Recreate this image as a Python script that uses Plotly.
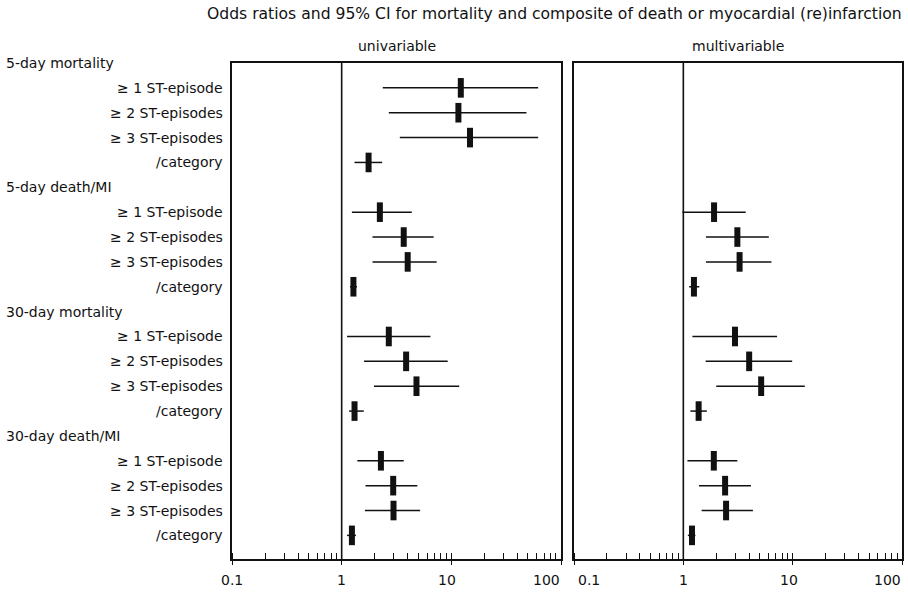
import math
import plotly.graph_objects as go

# ---------------- data ----------------
title_text = "Odds ratios and 95% CI for mortality and composite of death or myocardial (re)infarction"
panel_titles = ["univariable", "multivariable"]

row_labels = [
    "5-day mortality", "≥ 1 ST-episode", "≥ 2 ST-episodes", "≥ 3 ST-episodes", "/category",
    "5-day death/MI", "≥ 1 ST-episode", "≥ 2 ST-episodes", "≥ 3 ST-episodes", "/category",
    "30-day mortality", "≥ 1 ST-episode", "≥ 2 ST-episodes", "≥ 3 ST-episodes", "/category",
    "30-day death/MI", "≥ 1 ST-episode", "≥ 2 ST-episodes", "≥ 3 ST-episodes", "/category",
]
is_header = [True, False, False, False, False] * 4

uni_or = [None, 12.2, 11.6, 14.8, 1.76,
          None, 2.23, 3.68, 4.0, 1.28,
          None, 2.69, 3.87, 4.81, 1.31,
          None, 2.28, 2.95, 2.97, 1.24]
uni_lo = [None, 2.37, 2.69, 3.39, 1.31,
          None, 1.24, 1.91, 1.91, 1.19,
          None, 1.12, 1.60, 1.97, 1.17,
          None, 1.39, 1.65, 1.63, 1.12]
uni_hi = [None, 61.9, 48.4, 61.9, 2.34,
          None, 4.36, 6.9, 7.35, 1.38,
          None, 6.44, 9.26, 11.8, 1.59,
          None, 3.68, 4.9, 5.19, 1.35]

multi_or = [None, None, None, None, None,
            None, 1.91, 3.12, 3.27, 1.25,
            None, 2.97, 4.0, 5.15, 1.38,
            None, 1.9, 2.41, 2.46, 1.2]
multi_lo = [None, None, None, None, None,
            None, 0.98, 1.61, 1.61, 1.13,
            None, 1.21, 1.6, 2.0, 1.16,
            None, 1.09, 1.39, 1.47, 1.1]
multi_hi = [None, None, None, None, None,
            None, 3.72, 6.05, 6.4, 1.4,
            None, 7.2, 9.9, 12.9, 1.64,
            None, 3.12, 4.15, 4.33, 1.29]

tick_vals = [0.1, 1, 10, 100]
tick_text = ["0.1", "1", "10", "100"]
reference_value = 1

# ---------------- layout geometry ----------------
W, H = 908, 594
FONT = "DejaVu Sans"
INK = "#111111"
n_rows = len(row_labels)
y_bottom = 19.95

def px_x(p):
    return p / W

def px_y(p):
    return 1 - p / H

panels = [
    dict(xa="x", ya="y", dom=[px_x(232), px_x(561)], orv=uni_or, lo=uni_lo, hi=uni_hi),
    dict(xa="x2", ya="y2", dom=[px_x(574), px_x(902)], orv=multi_or, lo=multi_lo, hi=multi_hi),
]
ydom = [px_y(559), px_y(63)]

fig = go.Figure()

for p in panels:
    # reference line at OR = 1
    fig.add_trace(go.Scatter(
        x=[reference_value, reference_value], y=[0, y_bottom], mode="lines",
        line=dict(color=INK, width=1.6), xaxis=p["xa"], yaxis=p["ya"],
        hoverinfo="skip", showlegend=False))
    # CI lines
    xs, ys = [], []
    for i in range(n_rows):
        if p["orv"][i] is None:
            continue
        xs += [p["lo"][i], p["hi"][i], None]
        ys += [i, i, None]
    fig.add_trace(go.Scatter(
        x=xs, y=ys, mode="lines", line=dict(color=INK, width=1.5),
        xaxis=p["xa"], yaxis=p["ya"], hoverinfo="skip", showlegend=False))
    # point estimates
    px_, py_ = [], []
    for i in range(n_rows):
        if p["orv"][i] is None:
            continue
        px_.append(p["orv"][i])
        py_.append(i)
    fig.add_trace(go.Scatter(
        x=px_, y=py_, mode="markers",
        marker=dict(symbol="line-ns-open", size=14, color=INK,
                    line=dict(color=INK, width=6)),
        xaxis=p["xa"], yaxis=p["ya"], showlegend=False))

axis_common = dict(
    type="log", range=[-1, 2], showline=True, mirror=True, linecolor=INK, linewidth=1.5,
    showgrid=False, zeroline=False, tickvals=tick_vals, showticklabels=False,
    ticks="outside", ticklen=4, tickcolor=INK, tickwidth=1.2,
    minor=dict(ticks="inside", ticklen=6, dtick="D1", tickcolor=INK, tickwidth=1, showgrid=False),
)
yaxis_common = dict(
    range=[y_bottom, 0], domain=ydom, showline=True, mirror=True, linecolor=INK, linewidth=1.5,
    showgrid=False, zeroline=False, showticklabels=False, ticks="",
)

fig.update_layout(
    width=W, height=H, margin=dict(l=0, r=0, t=0, b=0),
    paper_bgcolor="white", plot_bgcolor="white", showlegend=False,
    font=dict(family=FONT, color=INK, size=14),
    xaxis=dict(domain=panels[0]["dom"], anchor="y", **axis_common),
    xaxis2=dict(domain=panels[1]["dom"], anchor="y2", **axis_common),
    yaxis=dict(anchor="x", **yaxis_common),
    yaxis2=dict(anchor="x2", **yaxis_common),
)

ann = []
# title
ann.append(dict(text=title_text, x=px_x(554), y=px_y(14), xref="paper", yref="paper",
                xanchor="center", yanchor="middle", showarrow=False,
                font=dict(family=FONT, size=15.6, color=INK)))
# panel titles
for p, t in zip(panels, panel_titles):
    ann.append(dict(text=t, x=(p["dom"][0] + p["dom"][1]) / 2, y=px_y(46),
                    xref="paper", yref="paper", xanchor="center", yanchor="middle",
                    showarrow=False, font=dict(family=FONT, size=14, color=INK)))
# row labels
for i, (lab, hdr) in enumerate(zip(row_labels, is_header)):
    if hdr:
        ann.append(dict(text=lab, x=px_x(4), y=i, xref="paper", yref="y",
                        xanchor="left", yanchor="middle", showarrow=False,
                        font=dict(family=FONT, size=14, color=INK)))
    else:
        ann.append(dict(text=lab, x=px_x(225), y=i, xref="paper", yref="y",
                        xanchor="right", yanchor="middle", showarrow=False,
                        font=dict(family=FONT, size=14, color=INK)))
# tick labels
for pi, p in enumerate(panels):
    for v, t in zip(tick_vals, tick_text):
        anchor = "center"
        shift = 0
        if t == "100":
            anchor = "right"
            shift = 1
        if t == "0.1" and pi == 1:
            anchor = "left"
            shift = 2
        if t == "10":
            shift = -4
        ann.append(dict(text=t, x=math.log10(v), y=px_y(580), xref=p["xa"], yref="paper",
                        xanchor=anchor, yanchor="middle", xshift=shift, showarrow=False,
                        font=dict(family=FONT, size=14, color=INK)))
fig.update_layout(annotations=ann)

fig.write_html("out.html")
